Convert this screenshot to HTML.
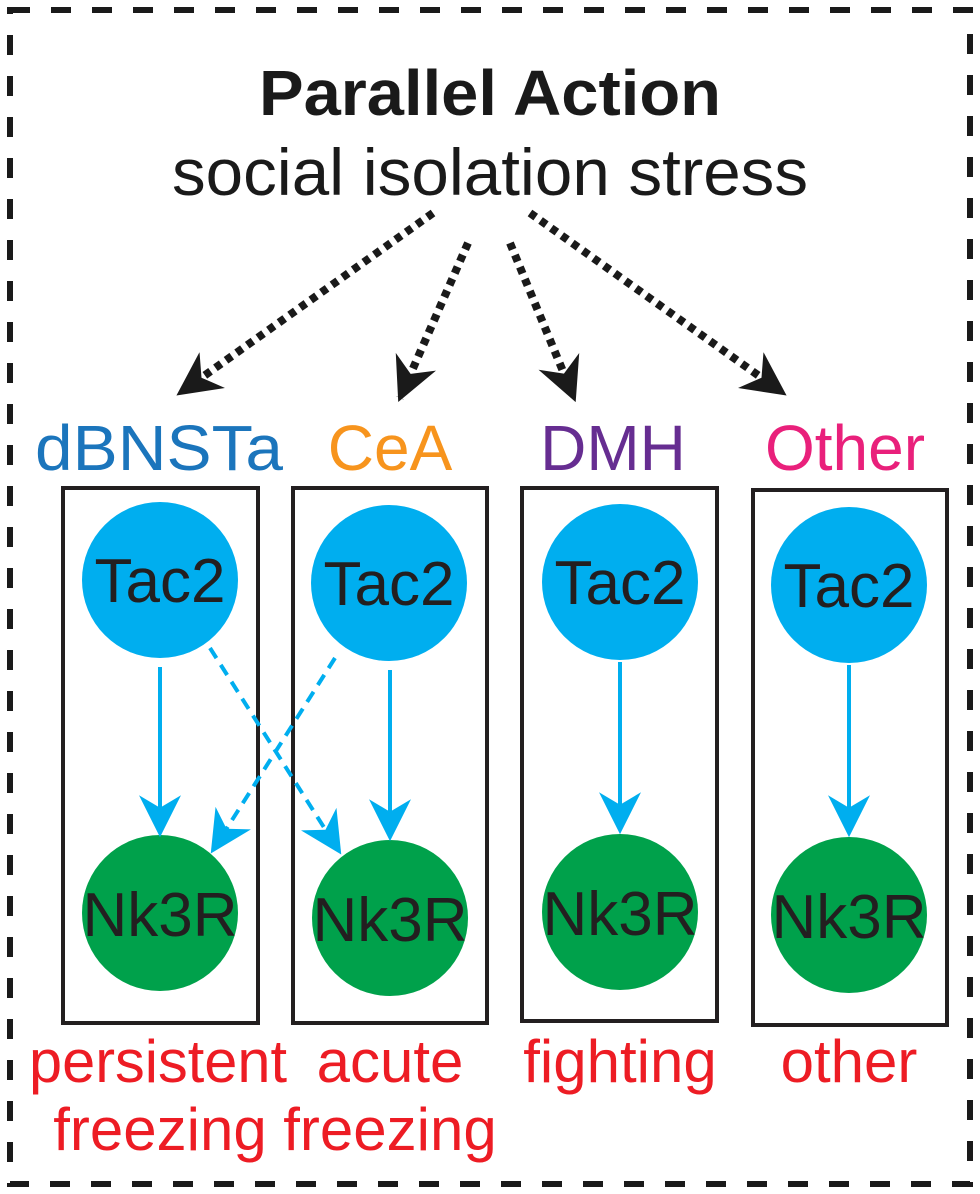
<!DOCTYPE html>
<html><head><meta charset="utf-8"><style>html,body{margin:0;padding:0;background:#fff}svg{display:block}</style></head>
<body>
<svg width="980" height="1194" viewBox="0 0 980 1194" xmlns="http://www.w3.org/2000/svg" font-family="Liberation Sans, Arial, sans-serif">
<defs>
<marker id="bk" viewBox="0 0 20 20" refX="18" refY="10" markerWidth="44" markerHeight="44" markerUnits="userSpaceOnUse" orient="auto">
<path d="M0,0 L20,10 L0,20 L6,10 Z" fill="#1a1a1a"/></marker>
<marker id="bl" viewBox="0 0 20 20" refX="18" refY="10" markerWidth="42" markerHeight="42" markerUnits="userSpaceOnUse" orient="auto">
<path d="M0,0 L20,10 L0,20 L6,10 Z" fill="#00aeef"/></marker>
</defs>
<rect x="10" y="10" width="960" height="1174" fill="none" stroke="#1a1a1a" stroke-width="6" stroke-dasharray="20 21"/>
<text x="490" y="115" text-anchor="middle" font-weight="bold" font-size="64" fill="#1a1a1a" textLength="462" lengthAdjust="spacingAndGlyphs">Parallel Action</text>
<text x="490" y="195" text-anchor="middle" font-size="66" fill="#1a1a1a" textLength="636" lengthAdjust="spacingAndGlyphs">social isolation stress</text>
<g stroke="#1a1a1a" stroke-width="8" stroke-dasharray="7 6" fill="none">
<line x1="433" y1="213" x2="180" y2="393" marker-end="url(#bk)"/>
<line x1="468" y1="243" x2="400" y2="398" marker-end="url(#bk)"/>
<line x1="510" y1="243" x2="574" y2="398" marker-end="url(#bk)"/>
<line x1="530" y1="213" x2="783" y2="393" marker-end="url(#bk)"/>
</g>
<g font-size="64" text-anchor="middle">
<text x="159" y="470" fill="#1b75bc" textLength="248" lengthAdjust="spacingAndGlyphs">dBNSTa</text>
<text x="390" y="470" fill="#f7941d">CeA</text>
<text x="613" y="470" fill="#662d91">DMH</text>
<text x="845" y="470" fill="#e9207b">Other</text>
</g>
<g fill="none" stroke="#231f20" stroke-width="4">
<rect x="63" y="488" width="195" height="535"/>
<rect x="293" y="488" width="194" height="535"/>
<rect x="522" y="488" width="195" height="533"/>
<rect x="753" y="490" width="194" height="535"/>
</g>
<g fill="#00aeef">
<circle cx="160" cy="580" r="78"/><circle cx="389" cy="583" r="78"/>
<circle cx="620" cy="582" r="78"/><circle cx="849" cy="585" r="78"/>
</g>
<g fill="#00a14b">
<circle cx="160" cy="913" r="78"/><circle cx="390" cy="918" r="78"/>
<circle cx="620" cy="912" r="78"/><circle cx="849" cy="915" r="78"/>
</g>
<g font-size="62" text-anchor="middle" fill="#231f20">
<text x="160" y="602">Tac2</text><text x="389" y="605">Tac2</text>
<text x="620" y="604">Tac2</text><text x="849" y="607">Tac2</text>
<text x="160" y="936">Nk3R</text><text x="390" y="941">Nk3R</text>
<text x="620" y="935">Nk3R</text><text x="849" y="938">Nk3R</text>
</g>
<g stroke="#00aeef" stroke-width="4" fill="none">
<line x1="160" y1="667" x2="160" y2="833" marker-end="url(#bl)"/>
<line x1="390" y1="670" x2="390" y2="837" marker-end="url(#bl)"/>
<line x1="620" y1="662" x2="620" y2="830" marker-end="url(#bl)"/>
<line x1="849" y1="665" x2="849" y2="833" marker-end="url(#bl)"/>
<line x1="210" y1="648" x2="339" y2="851" stroke-dasharray="12 8" marker-end="url(#bl)"/>
<line x1="335" y1="658" x2="213" y2="850" stroke-dasharray="12 8" marker-end="url(#bl)"/>
</g>
<g font-size="60" text-anchor="middle" fill="#ed1c24">
<text x="158" y="1082" textLength="258" lengthAdjust="spacingAndGlyphs">persistent</text>
<text x="390" y="1082">acute</text>
<text x="620" y="1082">fighting</text>
<text x="849" y="1082">other</text>
<text x="160" y="1150">freezing</text>
<text x="390" y="1150">freezing</text>
</g>
</svg>
</body></html>
